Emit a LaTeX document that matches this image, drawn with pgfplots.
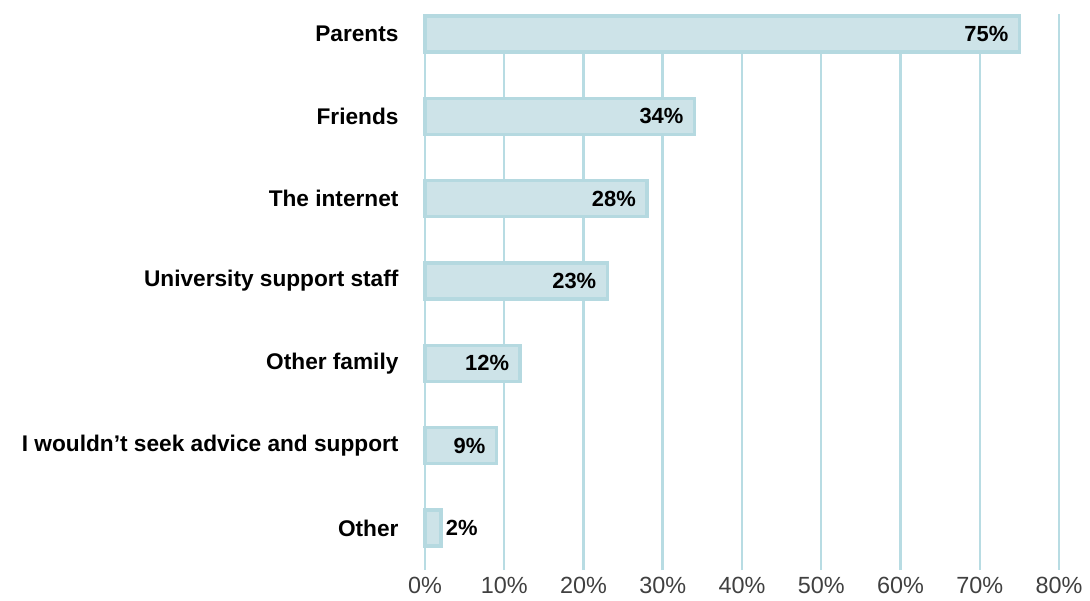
\documentclass[border=0pt]{standalone}
\usepackage{fontspec}
\setmainfont{Liberation Sans}
\usepackage{pgfplots}
\pgfplotsset{compat=1.18}
\definecolor{barfill}{HTML}{CDE3E8}
\definecolor{barline}{HTML}{B5D9E0}
\definecolor{gridc}{HTML}{B8DCE3}
\definecolor{tickc}{HTML}{404040}
\begin{document}
\begin{tikzpicture}
\begin{axis}[
  scale only axis, width=634bp, height=556bp,
  xmin=0, xmax=80, ymin=-0.51, ymax=6.243,
  xbar, bar width=36bp, bar shift=0pt,
  axis line style={draw=none},
  xtick={0,10,...,80},
  xticklabels={0\%,10\%,20\%,30\%,40\%,50\%,60\%,70\%,80\%},
  xmajorgrids, major grid style={gridc, line width=2.5bp},
  ytick={0,...,6},
  yticklabels={Other, I wouldn’t seek advice and support, Other family, University support staff, The internet, Friends, Parents},
  major tick length=0pt,
  yticklabel style={font=\fontsize{22.75}{27}\selectfont\bfseries, text=black, xshift=-23bp},
  xticklabel style={font=\fontsize{23.5}{27}\selectfont, text=tickc, yshift=-3.5bp},
  point meta=x,
  nodes near coords={\pgfmathprintnumber[assume math mode=true]{\pgfplotspointmeta}\%},
  every node near coord/.append style={font=\fontsize{22}{26}\selectfont\bfseries, text=black},
  clip=false,
]
\addplot[fill=barfill, draw=barline, line width=3.5bp,
  every node near coord/.append style={anchor=east, xshift=-6bp}]
  coordinates {(75,6) (34,5) (28,4) (23,3) (12,2) (9,1)};
\addplot[fill=barfill, draw=barline, line width=3.5bp,
  every node near coord/.append style={anchor=west, xshift=0bp}]
  coordinates {(2,0)};
\end{axis}
\path ([xshift=-425bp,yshift=-31bp]current axis.south west) rectangle ([xshift=31bp,yshift=14bp]current axis.north east);
\end{tikzpicture}
\end{document}
